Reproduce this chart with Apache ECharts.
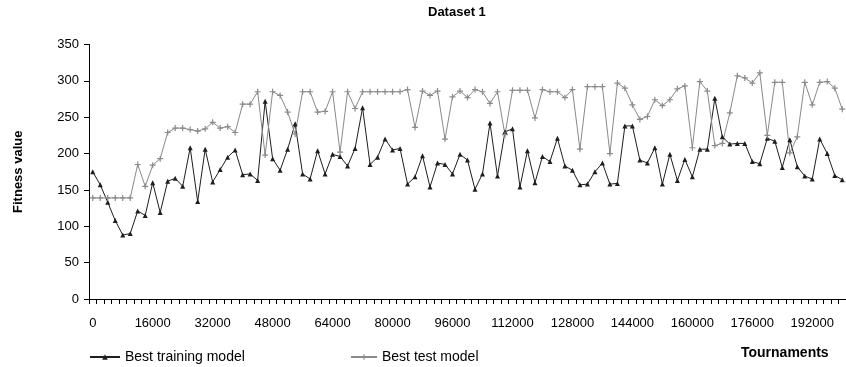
<!DOCTYPE html>
<html><head><meta charset="utf-8">
<script src="https://cdn.jsdelivr.net/npm/echarts@6/dist/echarts.min.js"></script>
<style>html,body{margin:0;padding:0;background:#fff}#c{width:846px;height:367px}</style>
</head><body><div id="c"></div>
<script>
const tournaments = [0,2000,4000,6000,8000,10000,12000,14000,16000,18000,20000,22000,24000,26000,28000,30000,32000,34000,36000,38000,40000,42000,44000,46000,48000,50000,52000,54000,56000,58000,60000,62000,64000,66000,68000,70000,72000,74000,76000,78000,80000,82000,84000,86000,88000,90000,92000,94000,96000,98000,100000,102000,104000,106000,108000,110000,112000,114000,116000,118000,120000,122000,124000,126000,128000,130000,132000,134000,136000,138000,140000,142000,144000,146000,148000,150000,152000,154000,156000,158000,160000,162000,164000,166000,168000,170000,172000,174000,176000,178000,180000,182000,184000,186000,188000,190000,192000,194000,196000,198000,200000];
const bestTraining = [175,157,133,108,88,90,121,115,160,119,162,166,155,208,134,206,161,178,195,205,171,172,163,272,193,177,206,241,172,165,204,172,199,196,183,207,263,185,195,220,205,207,158,168,197,154,187,185,172,199,191,151,172,242,169,230,234,154,204,160,196,189,221,183,177,157,158,175,187,158,159,238,238,191,187,208,158,199,163,192,168,206,206,276,223,213,214,214,189,186,221,217,181,219,182,169,165,220,200,170,164];
const bestTest = [139,139,139,139,139,139,185,155,184,193,229,235,235,233,231,234,243,235,237,229,268,268,285,198,285,280,257,227,285,285,257,258,285,202,285,262,285,285,285,285,285,285,288,236,286,280,286,220,278,286,277,288,285,269,285,226,287,287,287,249,288,285,285,277,288,206,292,292,292,200,297,290,267,247,251,274,266,274,289,293,208,299,286,211,214,256,307,304,297,311,225,298,298,201,223,298,267,298,299,290,261];
const yTicks = {min:0, max:350, step:50};
const seriesNames = ['Best training model','Best test model'];

const FONT = "'Liberation Sans', Arial, sans-serif";
const chart = echarts.init(document.getElementById('c'), null, {renderer:'canvas'});
const plusPath = 'path://M2,0h1v2h2v1h-2v2h-1v-2h-2v-1h2z';
const legendText = {fontFamily:FONT,fontSize:14,color:'#000'};
chart.setOption({
  animation:false,
  backgroundColor:'#fff',
  textStyle:{fontFamily:FONT},
  title:{text:'Dataset 1', left:425, top:3, padding:[3,3], textStyle:{fontFamily:FONT,fontSize:13,fontWeight:'bold',color:'#000'}},
  grid:{left:89, top:44.5, width:760, height:254.5},
  legend:[
    {data:[seriesNames[0]], left:89, top:350, padding:0, itemWidth:30, itemHeight:7, itemGap:4, textStyle:legendText},
    {data:[seriesNames[1]], left:350, top:350, padding:0, itemWidth:26, itemHeight:7, itemGap:4, textStyle:legendText}
  ],
  xAxis:{
    type:'category', data:tournaments, boundaryGap:true,
    axisLine:{lineStyle:{color:'#000',width:1}},
    axisTick:{show:true, interval:0, length:5, lineStyle:{color:'#000'}},
    axisLabel:{interval:7, fontFamily:FONT, fontSize:13, color:'#000', margin:18},
    splitLine:{show:false}
  },
  yAxis:{
    type:'value', min:yTicks.min, max:yTicks.max, interval:yTicks.step,
    name:'Fitness value', nameLocation:'middle', nameGap:64, nameRotate:90,
    nameTextStyle:{fontFamily:FONT,fontSize:13,fontWeight:'bold',color:'#000'},
    axisLine:{show:true, lineStyle:{color:'#000',width:1}},
    axisTick:{show:true, length:5, lineStyle:{color:'#000'}},
    axisLabel:{fontFamily:FONT, fontSize:13, color:'#000', margin:10},
    splitLine:{show:false}
  },
  graphic:[{type:'text', left:741, top:346, style:{text:'Tournaments', font:"bold 14px 'Liberation Sans', Arial, sans-serif", fill:'#000'}}],
  series:[
    {name:seriesNames[0], type:'line', data:bestTraining, symbol:'triangle', symbolSize:5, showAllSymbol:true,
     itemStyle:{color:'#1e1e1e'}, lineStyle:{color:'#1e1e1e', width:1}},
    {name:seriesNames[1], type:'line', data:bestTest, symbol:plusPath, symbolSize:6, showAllSymbol:true,
     itemStyle:{color:'#8a8a8a'}, lineStyle:{color:'#8a8a8a', width:1}}
  ]
});
</script></body></html>
